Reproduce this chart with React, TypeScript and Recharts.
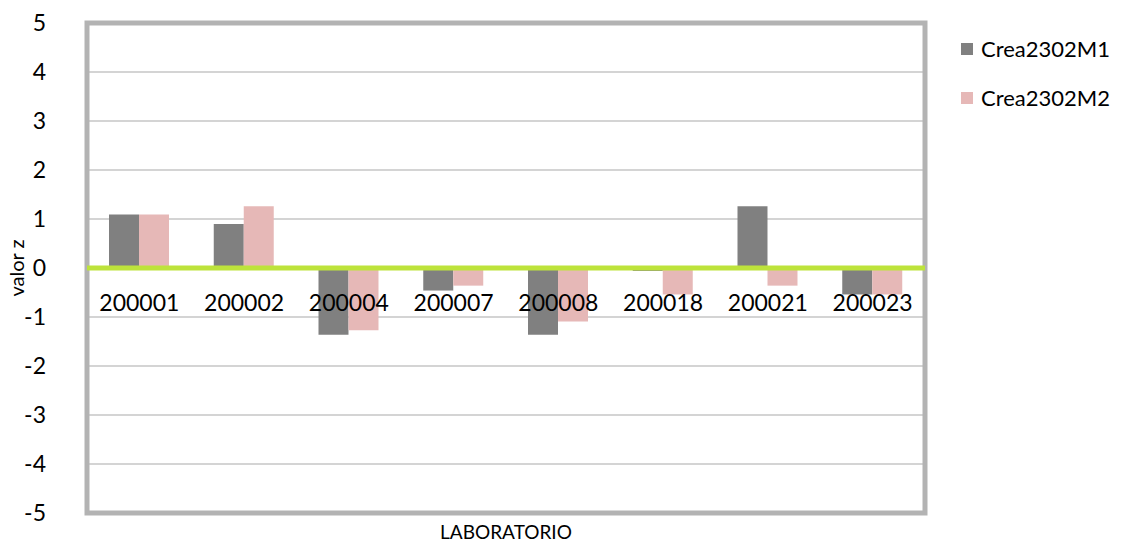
import { BarChart, Bar, XAxis, YAxis, CartesianGrid, ReferenceLine, ReferenceArea } from 'recharts';

const labs = ['200001', '200002', '200004', '200007', '200008', '200018', '200021', '200023'];
const crea2302M1 = [1.09, 0.9, -1.36, -0.46, -1.36, -0.06, 1.26, -0.54];
const crea2302M2 = [1.09, 1.26, -1.27, -0.36, -1.09, -0.54, -0.36, -0.54];
const yTicks = [-5, -4, -3, -2, -1, 0, 1, 2, 3, 4, 5];

const data = labs.map((lab, i) => ({ lab, Crea2302M1: crea2302M1[i], Crea2302M2: crea2302M2[i] }));

const W = 1123;
const H = 542;
const TOP = 23;
const AXIS_H = 29;
const PLOT_H = H - TOP - AXIS_H;
const FONT = 'Lato, "Open Sans", sans-serif';

const M1_COLOR = '#808080';
const M2_COLOR = '#e6b8b7';

// category labels sit just under the zero line, not at the bottom of the plot
const CategoryTick = (props: any) => {
  const zeroY = TOP + PLOT_H / 2;
  return (
    <text x={props.x} y={zeroY + 43} textAnchor="middle" fill="#000" fontSize={23} fontFamily={FONT}>
      {props.payload.value}
    </text>
  );
};

const XTitle = (props: any) => {
  const { x, y, width } = props.viewBox;
  return (
    <text x={x + width / 2} y={y + 26} textAnchor="middle" fontSize={19} fill="#000" fontFamily={FONT}>
      LABORATORIO
    </text>
  );
};

const YTitle = (props: any) => {
  const { y, height } = props.viewBox;
  const cx = 24;
  const cy = y + height / 2;
  return (
    <text x={cx} y={cy} transform={`rotate(-90 ${cx} ${cy})`} textAnchor="middle" fontSize={20} fill="#000" fontFamily={FONT}>
      valor z
    </text>
  );
};

const legendItems = [
  ['Crea2302M1', M1_COLOR],
  ['Crea2302M2', M2_COLOR],
];

export default function App() {
  return (
    <div style={{ position: 'absolute', left: 0, top: 0, width: W, height: H, background: '#fff' }}>
      <BarChart
        width={W}
        height={H}
        data={data}
        margin={{ top: TOP, right: 198, bottom: 0, left: 0 }}
        barCategoryGap="21%"
        barGap={0}
      >
        <CartesianGrid vertical={false} stroke="#c6c6c6" strokeWidth={1.5} />
        <ReferenceArea y1={-5} y2={5} fill="none" stroke="#b3b3b3" strokeWidth={5} ifOverflow="visible" />
        <XAxis
          dataKey="lab"
          height={AXIS_H}
          axisLine={false}
          tickLine={false}
          tick={<CategoryTick />}
          interval={0}
          label={<XTitle />}
        />
        <YAxis
          width={87}
          domain={[-5, 5]}
          ticks={yTicks}
          axisLine={false}
          tickLine={false}
          tickSize={0}
          tickMargin={41}
          tick={{ fontSize: 23, fill: '#000', fontFamily: FONT }}
          label={<YTitle />}
        />
        <Bar dataKey="Crea2302M1" fill={M1_COLOR} isAnimationActive={false} />
        <Bar dataKey="Crea2302M2" fill={M2_COLOR} isAnimationActive={false} />
        <ReferenceLine y={0} stroke="#bde33b" strokeWidth={5} />
      </BarChart>
      <div style={{ position: 'absolute', left: 961, top: 24, fontFamily: FONT, fontSize: 22, color: '#000' }}>
        {legendItems.map(([name, color]) => (
          <div key={name} style={{ display: 'flex', alignItems: 'center', height: 49 }}>
            <span style={{ width: 12, height: 12, background: color, marginRight: 8 }} />
            {name}
          </div>
        ))}
      </div>
    </div>
  );
}
